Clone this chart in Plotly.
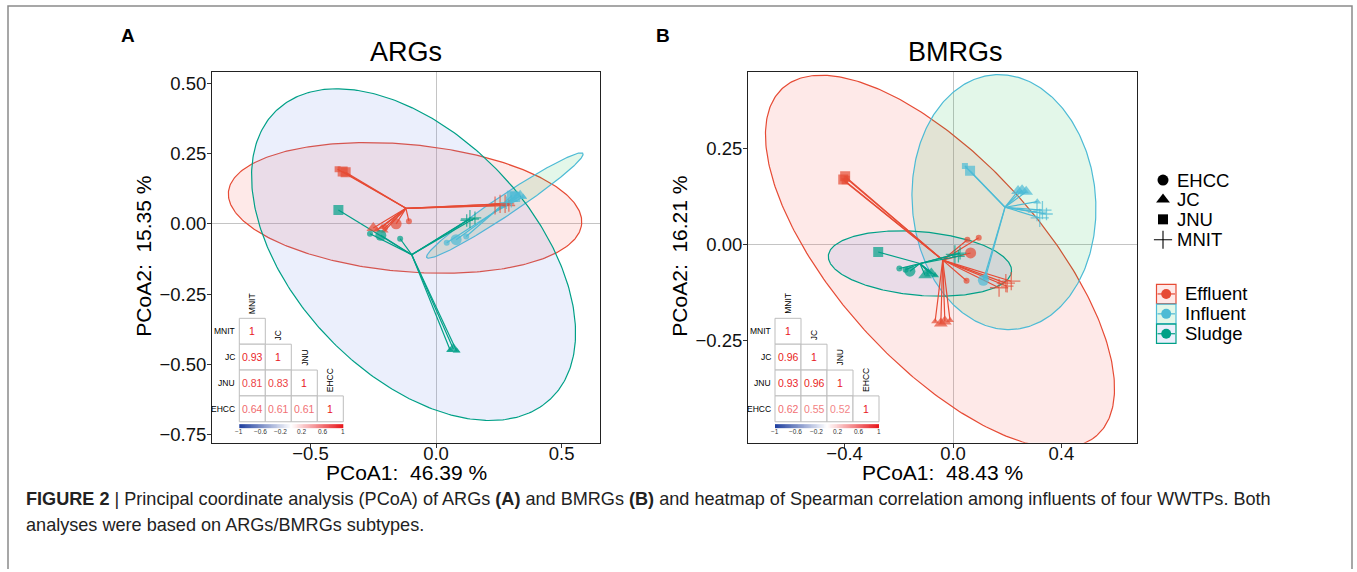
import numpy as np
import plotly.graph_objects as go

W, H = 1357, 572
FONT = "Liberation Sans, Arial, Helvetica, sans-serif"

# ---------------- categories / styles ----------------
GROUPS = ["Effluent", "Influent", "Sludge"]
SITES = ["EHCC", "JC", "JNU", "MNIT"]
GROUP_LINE = {"Effluent": "#E64B35", "Influent": "#4DBBD5", "Sludge": "#00A087"}
GROUP_FILL = {"Effluent": "rgba(248,118,109,0.16)", "Influent": "rgba(0,186,56,0.11)",
              "Sludge": "rgba(120,150,235,0.15)"}
SITE_SYMBOL = {"EHCC": "circle", "JC": "triangle-up", "JNU": "square", "MNIT": "cross-thin"}
SIZE_BIG = {"EHCC": 11, "JC": 12, "JNU": 10, "MNIT": 13}
SIZE_SMALL = {"EHCC": 6, "JC": 7, "JNU": 6, "MNIT": 9}

# ---------------- Panel A : ARGs ----------------
A_group = ["Effluent"] * 14 + ["Influent"] * 10 + ["Sludge"] * 10
A_site = ["JNU", "JNU", "JNU", "JC", "JC", "JC", "JC", "EHCC", "EHCC", "EHCC", "MNIT", "MNIT", "MNIT", "MNIT",
          "JNU", "JNU", "JC", "JC", "JC", "MNIT", "MNIT", "EHCC", "EHCC", "EHCC",
          "JNU", "EHCC", "EHCC", "EHCC", "JC", "JC", "JC", "MNIT", "MNIT", "MNIT"]
A_x = [-0.392, -0.360, -0.372, -0.250, -0.235, -0.215, -0.205, -0.159, -0.108, -0.203, 0.235, 0.255, 0.275, 0.290,
       0.302, 0.315, 0.335, 0.347, 0.325, 0.280, 0.300, 0.080, 0.0425, 0.120,
       -0.389, -0.220, -0.143, -0.263, 0.056, 0.069, 0.082, 0.122, 0.135, 0.155]
A_y = [0.194, 0.183, 0.186, -0.015, -0.022, -0.012, -0.025, 0.000, 0.0095, -0.014, 0.065, 0.071, 0.071, 0.065,
       0.100, 0.095, 0.100, 0.095, 0.105, 0.075, 0.080, -0.0565, -0.067, -0.045,
       0.049, -0.041, -0.053, -0.035, -0.448, -0.445, -0.452, 0.012, 0.017, 0.021]
A_big = [0, 1, 1, 1, 0, 0, 0, 1, 0, 0, 1, 1, 1, 0,
         1, 1, 1, 0, 0, 0, 0, 1, 0, 0,
         1, 1, 0, 0, 0, 1, 0, 0, 1, 0]
A_cent_x = [-0.120, 0.230, -0.097]
A_cent_y = [0.055, 0.040, -0.1095]
A_ell_cx = [-0.1235, 0.274, -0.0896]
A_ell_cy = [0.0565, 0.065, -0.1095]
A_ell_ux = [0.7034, 0.311, 0.544]
A_ell_uy = [-0.0569, 0.185, -0.514]
A_ell_vx = [0.0231, 0.0222, 0.347]
A_ell_vy = [0.2251, -0.0293, 0.288]

# ---------------- Panel B : BMRGs ----------------
B_group = ["Effluent"] * 16 + ["Influent"] * 12 + ["Sludge"] * 11
B_site = ["JNU", "JNU", "JNU", "JNU", "JC", "JC", "JC", "JC", "EHCC", "EHCC", "EHCC", "EHCC",
          "MNIT", "MNIT", "MNIT", "MNIT",
          "JNU", "JNU", "JC", "JC", "JC", "JC", "MNIT", "MNIT", "MNIT", "MNIT", "EHCC", "EHCC",
          "JNU", "EHCC", "EHCC", "EHCC", "JC", "JC", "JC", "JC", "MNIT", "MNIT", "MNIT"]
B_x = [-0.405, -0.398, -0.392, -0.400, -0.066, -0.045, -0.030, -0.011, 0.065, 0.053, 0.095, 0.050,
       0.170, 0.195, 0.215, 0.200,
       0.063, 0.044, 0.240, 0.255, 0.270, 0.311, 0.310, 0.330, 0.345, 0.320, 0.112, 0.120,
       -0.276, -0.159, -0.198, -0.175, -0.103, -0.091, -0.066, -0.080, 0.007, 0.020, 0.026]
B_y = [0.170, 0.178, 0.172, 0.165, -0.200, -0.205, -0.200, -0.197, -0.0215, 0.013, 0.018, -0.094,
       -0.112, -0.100, -0.095, -0.108,
       0.1925, 0.205, 0.140, 0.142, 0.138, 0.112, 0.085, 0.090, 0.080, 0.070, -0.0925, -0.085,
       -0.019, -0.069, -0.062, -0.065, -0.0795, -0.071, -0.080, -0.075, -0.025, -0.030, -0.022]
B_big = [1, 1, 0, 0, 0, 1, 1, 0, 1, 0, 0, 0,
         1, 1, 1, 0,
         1, 0, 1, 1, 1, 0, 1, 1, 0, 1, 1, 0,
         1, 1, 0, 0, 1, 0, 0, 1, 1, 0, 0]
B_cent_x = [-0.038, 0.192, -0.122]
B_cent_y = [-0.040, 0.0976, -0.049]
B_ell_cx = [-0.048, 0.188, -0.122]
B_ell_cy = [-0.044, 0.111, -0.049]
B_ell_ux = [0.580, 0.339, 0.338]
B_ell_uy = [-0.452, 0.000, -0.0207]
B_ell_vx = [0.280, -0.018, 0.0103]
B_ell_vy = [0.177, 0.332, 0.0826]

# ---------------- Spearman correlation insets ----------------
CORR_LABELS = ["MNIT", "JC", "JNU", "EHCC"]
A_corr = [[1], [0.93, 1], [0.81, 0.83, 1], [0.64, 0.61, 0.61, 1]]
B_corr = [[1], [0.96, 1], [0.93, 0.96, 1], [0.62, 0.55, 0.52, 1]]
CBAR_TICKS = [-1, -0.6, -0.2, 0.2, 0.6, 1]

# ---------------- titles / text ----------------
A_title, B_title = "ARGs", "BMRGs"
A_xlab, A_ylab = "PCoA1:\u00a0\u00a046.39 %", "PCoA2:\u00a0\u00a015.35 %"
B_xlab, B_ylab = "PCoA1:\u00a0\u00a048.43 %", "PCoA2:\u00a0\u00a016.21 %"
CAPTION_1 = ("<b>FIGURE 2</b> | Principal coordinate analysis (PCoA) of ARGs <b>(A)</b> and BMRGs <b>(B)</b> "
             "and heatmap of Spearman correlation among influents of four WWTPs. Both")
CAPTION_2 = "analyses were based on ARGs/BMRGs subtypes."

fig = go.Figure()


def add_panel(xa, ya, group, site, xs, ys, big, cent_x, cent_y, ecx, ecy, eux, euy, evx, evy):
    t = np.linspace(0, 2 * np.pi, 361)
    for gi, g in enumerate(GROUPS):
        ex = ecx[gi] + eux[gi] * np.cos(t) + evx[gi] * np.sin(t)
        ey = ecy[gi] + euy[gi] * np.cos(t) + evy[gi] * np.sin(t)
        fig.add_trace(go.Scatter(x=ex, y=ey, mode="lines", fill="toself", fillcolor=GROUP_FILL[g],
                                 line=dict(color=GROUP_LINE[g], width=1.2), xaxis=xa, yaxis=ya,
                                 hoverinfo="skip"))
    for gi, g in enumerate(GROUPS):
        sx, sy = [], []
        for k in range(len(xs)):
            if group[k] == g:
                sx += [cent_x[gi], xs[k], None]
                sy += [cent_y[gi], ys[k], None]
        fig.add_trace(go.Scatter(x=sx, y=sy, mode="lines", line=dict(color=GROUP_LINE[g], width=1.2),
                                 xaxis=xa, yaxis=ya, hoverinfo="skip"))
    for g in GROUPS:
        for s in SITES:
            idx = [k for k in range(len(xs)) if group[k] == g and site[k] == s]
            if not idx:
                continue
            sizes = [SIZE_BIG[s] if big[k] else SIZE_SMALL[s] for k in idx]
            mk = dict(symbol=SITE_SYMBOL[s], size=sizes, color=GROUP_LINE[g])
            if s == "MNIT":
                mk["line"] = dict(color=GROUP_LINE[g], width=1.3)
            else:
                mk["line"] = dict(width=0)
            fig.add_trace(go.Scatter(x=[xs[k] for k in idx], y=[ys[k] for k in idx], mode="markers",
                                     marker=mk, xaxis=xa, yaxis=ya, name=f"{g} {s}"))


add_panel("x", "y", A_group, A_site, A_x, A_y, A_big, A_cent_x, A_cent_y,
          A_ell_cx, A_ell_cy, A_ell_ux, A_ell_uy, A_ell_vx, A_ell_vy)
add_panel("x2", "y2", B_group, B_site, B_x, B_y, B_big, B_cent_x, B_cent_y,
          B_ell_cx, B_ell_cy, B_ell_ux, B_ell_uy, B_ell_vx, B_ell_vy)

# ---------------- overlay (pixel) axis for legends / insets ----------------
RED = np.array([232, 22, 27])
BLUE = np.array([31, 63, 159])


def val_color(v):
    c = np.array([255, 255, 255]) * (1 - v) + RED * v
    return "rgb(%d,%d,%d)" % tuple(np.round(c).astype(int))


def add_corr(x0, y0, cell, vals):
    n = len(CORR_LABELS)
    for i in range(n):
        for j in range(i + 1):
            fig.add_shape(type="rect", xref="x3", yref="y3", x0=x0 + j * cell, x1=x0 + (j + 1) * cell,
                          y0=y0 + i * cell, y1=y0 + (i + 1) * cell,
                          line=dict(color="#BDBDBD", width=1), fillcolor="white", layer="above")
            v = vals[i][j]
            txt = "1" if v == 1 else f"{v:.2f}"
            fig.add_annotation(xref="x3", yref="y3", x=x0 + (j + 0.5) * cell, y=y0 + (i + 0.5) * cell,
                               text=txt, showarrow=False, font=dict(family=FONT, size=10.5, color=val_color(v)))
        fig.add_annotation(xref="x3", yref="y3", x=x0 - 2, y=y0 + (i + 0.5) * cell, text=CORR_LABELS[i],
                           xanchor="right", showarrow=False, font=dict(family=FONT, size=8.5, color="#000000"))
        fig.add_annotation(xref="x3", yref="y3", x=x0 + (i + 0.5) * cell, y=y0 + i * cell - 2,
                           text=CORR_LABELS[i], textangle=-90, yanchor="bottom", showarrow=False,
                           font=dict(family=FONT, size=8.5, color="#000000"))
    # colour bar
    bx0, bx1 = x0, x0 + n * cell
    nb = 120
    zz = np.linspace(-1, 1, nb)
    fig.add_trace(go.Heatmap(z=[zz], x0=bx0 + (bx1 - bx0) / nb / 2, dx=(bx1 - bx0) / nb, y0=428.2, dy=3.6,
                             colorscale=[[0, "rgb(%d,%d,%d)" % tuple(BLUE)], [0.5, "white"],
                                         [1, "rgb(%d,%d,%d)" % tuple(RED)]],
                             zmin=-1, zmax=1, showscale=False, xaxis="x3", yaxis="y3", hoverinfo="skip"))
    for tv in CBAR_TICKS:
        fig.add_annotation(xref="x3", yref="y3", x=bx0 + (tv + 1) / 2 * (bx1 - bx0), y=433.5,
                           text=("\u2212" if tv < 0 else "") + f"{abs(tv):g}", showarrow=False,
                           font=dict(family=FONT, size=6.5, color="#333"))


add_corr(239.3, 320.0, 26.0, A_corr)
add_corr(775.0, 320.0, 26.0, B_corr)

# shape legend
LEG_SHAPE_Y = [181, 200.5, 220.5, 241]
for s, yy in zip(SITES, LEG_SHAPE_Y):
    mk = dict(symbol=SITE_SYMBOL[s], size=SIZE_BIG[s], color="black")
    mk["line"] = dict(color="black", width=1.1) if s == "MNIT" else dict(width=0)
    fig.add_trace(go.Scatter(x=[1163], y=[yy], mode="markers", marker=mk, xaxis="x3", yaxis="y3",
                             hoverinfo="skip"))
    fig.add_annotation(xref="x3", yref="y3", x=1175, y=yy, text=s, xanchor="left", showarrow=False,
                       font=dict(family=FONT, size=18.5, color="black"))

# colour legend
LEG_COL_Y = [295.5, 315.5, 335.5]
for g, yy in zip(GROUPS, LEG_COL_Y):
    fig.add_shape(type="rect", xref="x3", yref="y3", x0=1156.5, x1=1176, y0=yy - 9.7, y1=yy + 9.7,
                  line=dict(color=GROUP_LINE[g], width=1.2), fillcolor=GROUP_FILL[g], layer="below")
    fig.add_trace(go.Scatter(x=[1157.5, 1175], y=[yy, yy], mode="lines", line=dict(color=GROUP_LINE[g], width=1.2),
                             xaxis="x3", yaxis="y3", hoverinfo="skip"))
    fig.add_trace(go.Scatter(x=[1166.2], y=[yy], mode="markers", marker=dict(size=10, color=GROUP_LINE[g]),
                             xaxis="x3", yaxis="y3", hoverinfo="skip"))
    fig.add_annotation(xref="x3", yref="y3", x=1183, y=yy, text=g, xanchor="left", showarrow=False,
                       font=dict(family=FONT, size=18.5, color="black"))


# titles, panel letters, axis titles
def ann(x, y, text, size, **kw):
    fig.add_annotation(xref="x3", yref="y3", x=x, y=y, text=text, showarrow=False,
                       font=dict(family=kw.pop("family", FONT), size=size, color=kw.pop("color", "black")), **kw)


ann(128, 36, "<b>A</b>", 19)
ann(663, 36, "<b>B</b>", 19)
ann(405.5, 52, A_title, 27)
ann(955, 52, B_title, 27)
ann(406, 475, A_xlab, 21)
ann(942, 475, B_xlab, 21)
ann(144, 258, A_ylab, 21, textangle=-90)
ann(680, 258, B_ylab, 21, textangle=-90)
ann(24, 502, CAPTION_1, 18.1, color="#222", xanchor="left")
ann(24, 528, CAPTION_2, 18.1, color="#222", xanchor="left")

# outer frame
fig.add_shape(type="rect", xref="x3", yref="y3", x0=8, x1=1352, y0=6, y1=600,
              line=dict(color="#8A8A8A", width=1.5), fillcolor="rgba(0,0,0,0)", layer="above")

axis_common = dict(showline=True, mirror=True, linecolor="#222", linewidth=1.1, ticks="outside", ticklen=4,
                   tickwidth=1, tickcolor="#333", showgrid=False, zeroline=True, zerolinecolor="#C4C4C4",
                   zerolinewidth=1, tickfont=dict(family=FONT, size=18.5, color="#111"), fixedrange=True)

fig.update_layout(
    width=W, height=H, margin=dict(l=0, r=0, t=0, b=0), autosize=False,
    paper_bgcolor="white", plot_bgcolor="rgba(0,0,0,0)", showlegend=False,
    xaxis=dict(domain=[212 / W, 600 / W], range=[-0.8924, 0.653], anchor="y", ticklabelstandoff=-10,
               tickvals=[-0.5, 0, 0.5], tickformat=".1f", **axis_common),
    yaxis=dict(domain=[1 - 445 / H, 1 - 72 / H], range=[-0.7774, 0.5406], anchor="x", ticklabelstandoff=-3,
               tickvals=[-0.75, -0.5, -0.25, 0, 0.25, 0.5], tickformat=".2f", **axis_common),
    xaxis2=dict(domain=[748 / W, 1137 / W], range=[-0.7565, 0.679], anchor="y2", ticklabelstandoff=-10,
                tickvals=[-0.4, 0, 0.4], tickformat=".1f", **axis_common),
    yaxis2=dict(domain=[1 - 445 / H, 1 - 72 / H], range=[-0.5155, 0.4508], anchor="x2", ticklabelstandoff=-3,
                tickvals=[-0.25, 0, 0.25], tickformat=".2f", **axis_common),
    xaxis3=dict(domain=[0, 1], range=[0, W], anchor="y3", visible=False, fixedrange=True),
    yaxis3=dict(domain=[0, 1], range=[H, 0], anchor="x3", visible=False, fixedrange=True),
)

fig.write_html("out.html", config={"displayModeBar": False},
               post_script="document.body.style.margin='0px';document.body.style.overflow='hidden';")
